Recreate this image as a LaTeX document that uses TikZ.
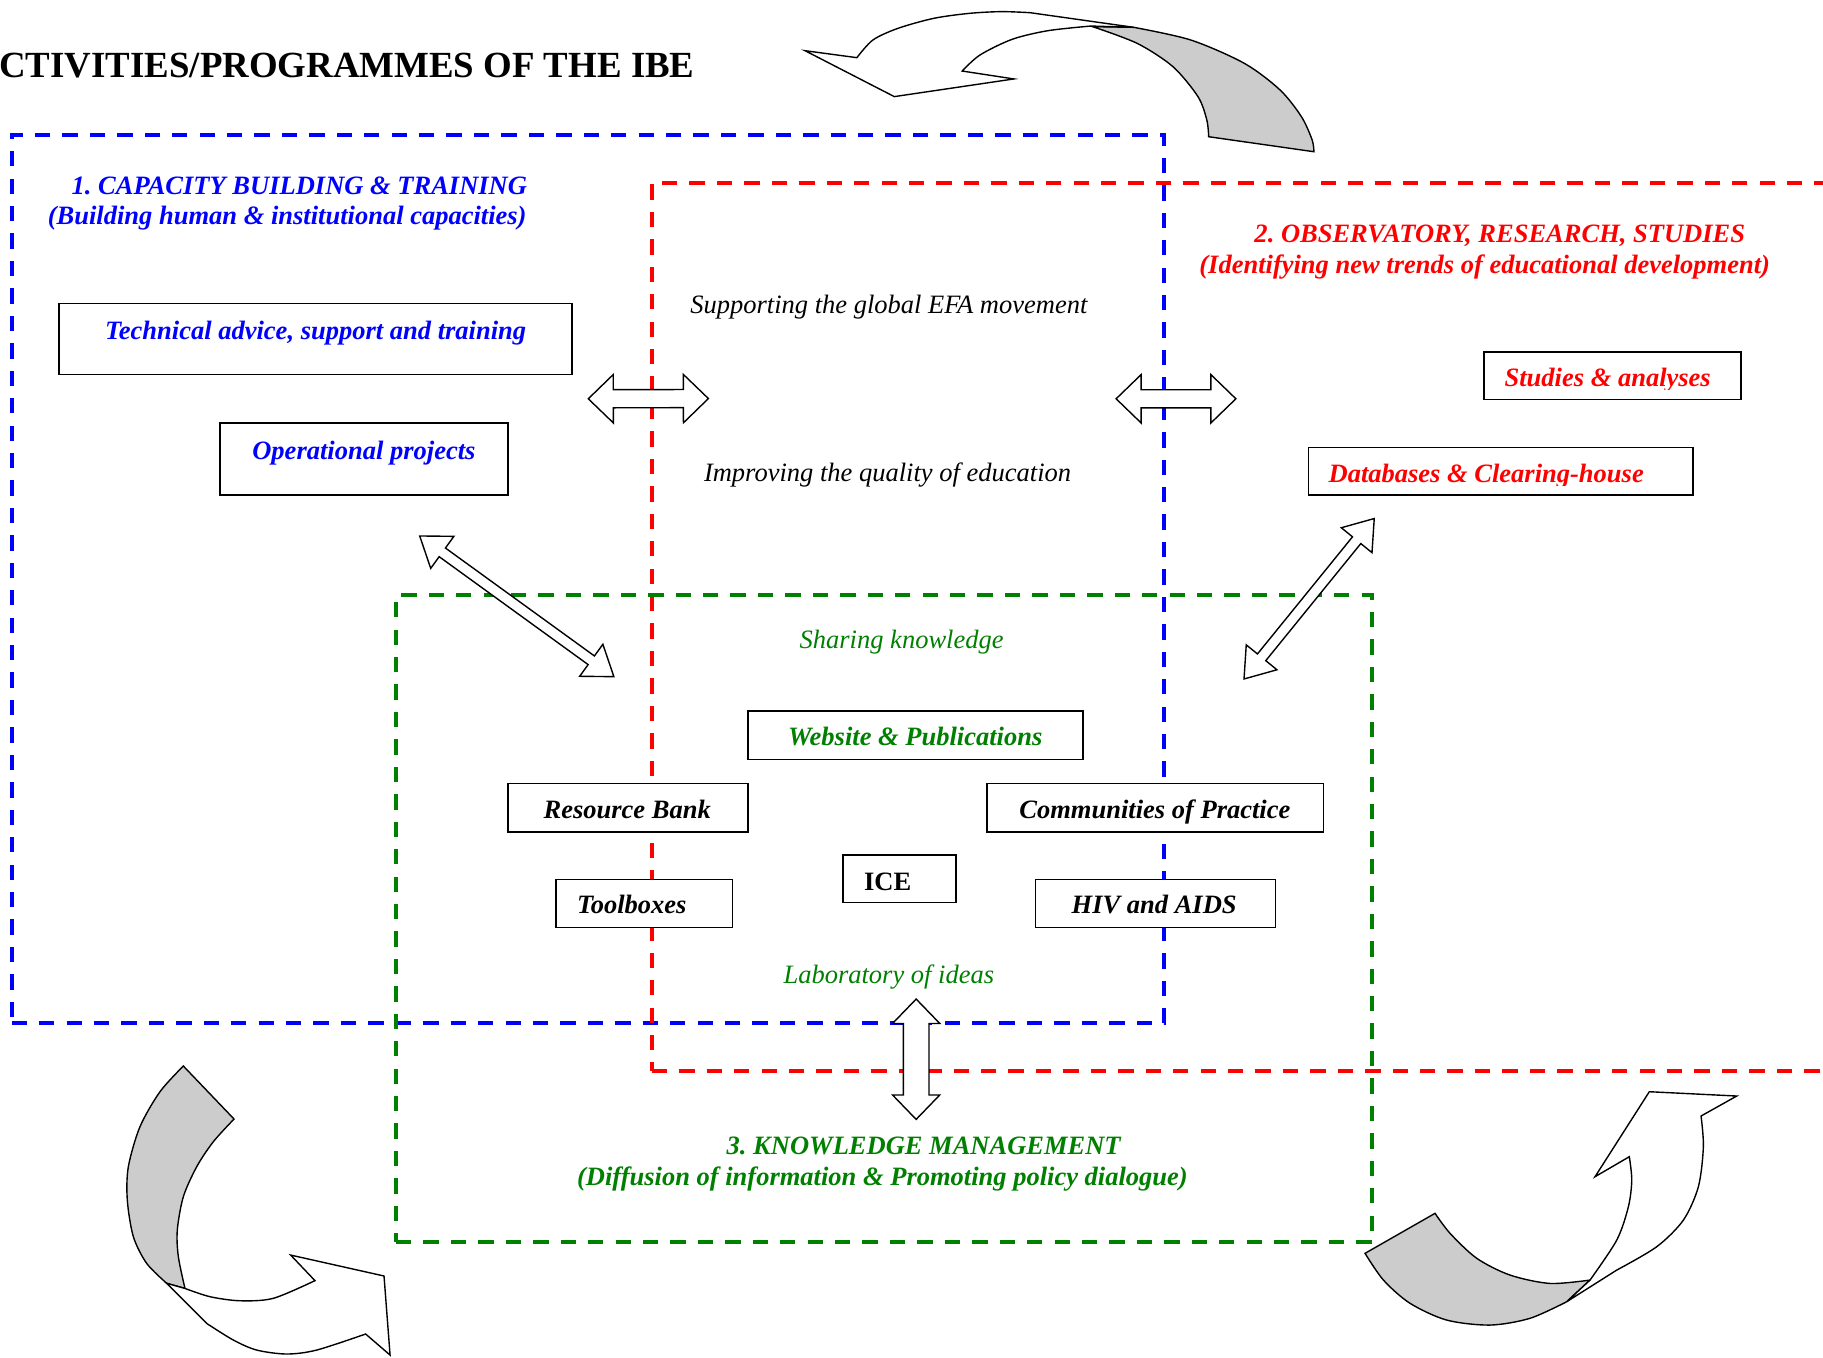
\documentclass[tikz,border=0pt]{standalone}
\usepackage{fontspec}
\setmainfont{Liberation Serif}
\usetikzlibrary{fit,calc}
\definecolor{wgreen}{RGB}{0,128,0}
\frenchspacing
\newcommand{\blockarrow}[5]{%
  \draw[barrow] (#1)
   -- ($(#1)!#5!(#2)!#4!90:(#2)$)
   -- ($(#1)!#5!(#2)!#3!90:(#2)$)
   -- ($(#2)!#5!(#1)!#3!-90:(#1)$)
   -- ($(#2)!#5!(#1)!#4!-90:(#1)$)
   -- (#2)
   -- ($(#2)!#5!(#1)!#4!90:(#1)$)
   -- ($(#2)!#5!(#1)!#3!90:(#1)$)
   -- ($(#1)!#5!(#2)!#3!-90:(#2)$)
   -- ($(#1)!#5!(#2)!#4!-90:(#2)$)
   -- cycle;}
\begin{document}
\begin{tikzpicture}[x=0.5pt, y=-0.5pt,
  box/.style={draw, fill=white, line width=0.7pt, inner sep=0pt},
  bi/.style={inner sep=0pt, font=\fontsize{11.4pt}{13pt}\selectfont\frenchspacing\bfseries\itshape, anchor=base},
  itx/.style={inner sep=0pt, font=\fontsize{11.4pt}{13pt}\selectfont\frenchspacing\itshape, anchor=base},
  zone/.style={line width=1.75pt, dash pattern=on 6.6pt off 5.2pt, inner sep=0pt},
  ribbon/.style={draw, line width=0.6pt, line join=miter},
  barrow/.style={draw, fill=white, line width=0.6pt, line join=miter}]
\useasboundingbox (0,0) rectangle (1568,1167.2);

% zones
\node[zone, draw=blue, fit={(10,116) (1001.5,880.2)}] (capacity) {};
\node[zone, draw=red, fit={(560.6,157) (1700,921)}] (observatory) {};
\node[zone, draw=wgreen, fit={(340.6,512) (1180.4,1068.5)}] (knowledge) {};

% title
\node[anchor=base west, inner sep=0pt, font=\fontsize{15.85pt}{18pt}\selectfont\bfseries] (title) at (-1,67) {CTIVITIES/PROGRAMMES OF THE IBE};

% headings
\node[bi, text=blue] (h1a) at (257.5,167) {1. CAPACITY BUILDING \& TRAINING};
\node[bi, text=blue] (h1b) at (247,193) {(Building human \& institutional capacities)};
\node[bi, text=red] (h2a) at (1290,209) {2. OBSERVATORY, RESEARCH, STUDIES};
\node[bi, text=red] (h2b) at (1277,235) {(Identifying new trends of educational development)};
\node[bi, text=wgreen] (h3a) at (794.5,993) {3. KNOWLEDGE MANAGEMENT};
\node[bi, text=wgreen] (h3b) at (759,1020) {(Diffusion of information \& Promoting policy dialogue)};

% plain italic texts
\node[itx] (efa) at (764.5,270) {Supporting the global EFA movement};
\node[itx] (quality) at (763.4,414.5) {Improving the quality of education};
\node[itx, text=wgreen] (sharing) at (775.5,558) {Sharing knowledge};
\node[itx, text=wgreen] (lab) at (764.5,846) {Laboratory of ideas};

% boxes
\node[box, fit={(51,261) (492,322)}] (tech) {};
\node[bi, text=blue] (techt) at (271.5,292) {Technical advice, support and training};
\node[box, fit={(189,364) (437,426)}] (oper) {};
\node[bi, text=blue] (opert) at (313,395) {Operational projects};
\node[box, fit={(1276.5,302.5) (1497.5,343.5)}] (studies) {};
\begin{scope}
\clip (1276.5,302.5) rectangle (1497.5,335);
\node[bi, text=red] (studiest) at (1382.8,332.6) {Studies \& analyses};
\end{scope}
\node[box, fit={(1125.3,384.8) (1456,425.8)}] (data) {};
\begin{scope}
\clip (1125.3,384.8) rectangle (1456,417.5);
\node[bi, text=red] (datat) at (1278.3,415.2) {Databases \& Clearing-house};
\end{scope}
\node[box, fit={(643.2,611.6) (931.6,653.1)}] (web) {};
\node[bi, text=wgreen] (webt) at (787.2,640.8) {Website \& Publications};
\node[box, fit={(437,673.8) (643.2,715.4)}] (res) {};
\node[bi] (rest) at (539.5,704) {Resource Bank};
\node[box, fit={(849.1,673.8) (1138.4,715.4)}] (comm) {};
\node[bi] (commt) at (993.3,704) {Communities of Practice};
\node[box, fit={(725.3,735.4) (822.2,776.4)}] (ice) {};
\node[bi, font=\fontsize{11.4pt}{13pt}\selectfont\bfseries] (icet) at (763.5,766) {ICE};
\node[box, fit={(478,756.4) (630,797.9)}] (tool) {};
\node[bi] (toolt) at (543.4,786) {Toolboxes};
\node[box, fit={(890.6,756.4) (1097,797.9)}] (hiv) {};
\node[bi] (hivt) at (992.7,786) {HIV and AIDS};

% block arrows
\coordinate (hA1) at (506,343); \coordinate (hB1) at (609.3,342.8);
\coordinate (hA2) at (960,343); \coordinate (hB2) at (1063,343);
\coordinate (dA1) at (361,461); \coordinate (dB1) at (528,582);
\coordinate (dA2) at (1182,446); \coordinate (dB2) at (1070,584);
\coordinate (vA) at (788,859.3); \coordinate (vB) at (788,962.8);
\blockarrow{hA1}{hB1}{3.9pt}{10.4pt}{10.75pt}
\blockarrow{hA2}{hB2}{3.9pt}{10.4pt}{10.75pt}
\blockarrow{dA1}{dB1}{2.3pt}{8.5pt}{12pt}
\blockarrow{dA2}{dB2}{2.3pt}{8.5pt}{12pt}
\blockarrow{vA}{vB}{5.5pt}{10.15pt}{10.5pt}

% top curved arrow
\draw[ribbon, fill=black!20] plot[smooth] coordinates {(939.7,22.9) (978.1,37.3) (1008.8,57.3) (1030.4,83.1) (1038,103.2) (1039.6,117.6)}
  -- plot[smooth] coordinates {(1130.1,130.5) (1128.6,120.4) (1119.4,100.4) (1101,77.4) (1070.3,54.5) (1024.2,34.4) (975.1,23.5)} -- cycle;
\draw[ribbon, fill=white] (737,49.6) -- (692.4,43.6) -- (769.2,83.1) -- (872.1,67.9) -- (827.6,61.1)
  -- plot[smooth] coordinates {(827.6,61.1) (842.9,47.3) (870.6,33.8) (901.3,26.4) (938.2,22.4)}
  -- (975.1,23.5) -- (885.9,10.9)
  -- plot[smooth] coordinates {(885.9,10.9) (861.4,10) (833.7,11.5) (803,15.8) (772.3,24.4) (750.8,34.4) (737,49.6)} -- cycle;

% bottom-left curved arrow
\draw[ribbon, fill=black!20] (157.7,916.9) -- (201.3,962.5)
  -- plot[smooth] coordinates {(201.3,962.5) (183.5,982) (169.2,1003.5) (157.7,1029.3) (152.5,1058) (153.4,1080.9) (159.1,1108.2)}
  -- (143.4,1103.8)
  -- plot[smooth] coordinates {(143.4,1103.8) (126.2,1086.7) (114.7,1063.7) (109.5,1032.2) (110.4,1003.5) (120.4,969.1) (137.6,939) (157.7,916.9)} -- cycle;
\draw[ribbon, fill=white] (143.4,1103.8) -- (177.8,1138.3)
  -- plot[smooth] coordinates {(177.8,1138.3) (200.7,1152.6) (220.8,1161.2) (246.6,1164.6) (272.4,1161.2) (314.5,1147.4)}
  -- (335.5,1165.5) -- (330.3,1097.5) -- (250,1079.5) -- (270.9,1101.5)
  -- plot[smooth] coordinates {(270.9,1101.5) (235.1,1116.7) (206.4,1118.8) (180.6,1115.3) (159.1,1108.2)} -- cycle;

% bottom-right curved arrow
\draw[ribbon, fill=black!20] (1174.1,1078) -- (1234.3,1043.6)
  -- plot[smooth] coordinates {(1234.3,1043.6) (1247.2,1060.8) (1270.2,1082.3) (1298.8,1096.7) (1333.2,1103.9) (1367.6,1101)}
  -- (1347.6,1119.6)
  -- plot[smooth] coordinates {(1347.6,1119.6) (1316,1133.9) (1281.6,1139.7) (1244.3,1135.4) (1212.8,1121) (1189.9,1101) (1174.1,1078)} -- cycle;
\draw[ribbon, fill=white] plot[smooth] coordinates {(1367.6,1101) (1390.6,1066.6) (1400.6,1037.9) (1403.5,1015) (1401.4,994.9)}
  -- (1371.9,1012.1) -- (1418.6,939) -- (1493.8,942.7) -- (1463.1,959.9)
  -- plot[smooth] coordinates {(1463.1,959.9) (1465.1,986.3) (1460.8,1020.7) (1447.9,1049.4) (1425,1072.3) (1390.6,1092.4)}
  -- (1347.6,1119.6) -- cycle;
\end{tikzpicture}
\end{document}
